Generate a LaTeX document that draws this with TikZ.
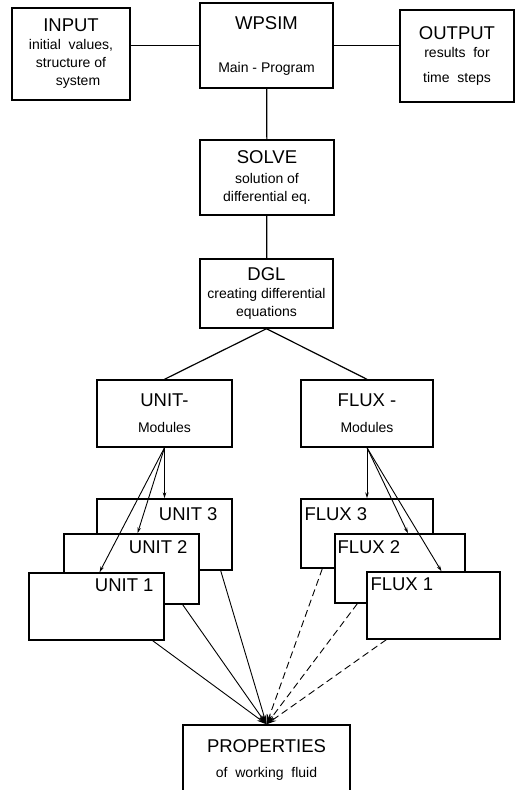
\documentclass[tikz,border=0pt]{standalone}
\usepackage{fontspec}
\setmainfont{Liberation Sans}
\usetikzlibrary{positioning, arrows.meta}

\newcommand\btitle[1]{{\fontsize{18.5}{18}\selectfont #1}}

\begin{document}
\begin{tikzpicture}[
  x=1pt, y=-1pt,
  font=\fontsize{14}{18}\selectfont,
  >={Stealth[length=6pt, width=3.5pt]},
  box/.style={draw, line width=1.4pt, fill=white, align=center, inner sep=2pt},
  lab/.style={font=\fontsize{18.5}{18}\selectfont, inner sep=0pt},
  link/.style={line width=1.2pt},
  feed/.style={->, line width=0.9pt},
  prop/.style={->, line width=0.9pt, >={Stealth[length=10pt, width=5.5pt]}},
  propdash/.style={prop, dash pattern=on 7pt off 4pt},
]
\useasboundingbox (0,0) rectangle (532,790);

% Main program row
\node[box, minimum width=118pt, minimum height=92pt] (input) at (71,54)
  {\btitle{INPUT}\\ initial\ \ values,\\ structure of\\ \hspace*{14pt}system};
\node[box, minimum width=133pt, minimum height=85pt] (main) at (266.5,45.5)
  {\btitle{WPSIM}\\[25pt] Main - Program};
\node[box, minimum width=114pt, minimum height=92pt] (output) at (457,56)
  {\btitle{OUTPUT}\\ results\ \ for\\[7pt] time\ \ steps};

% Solver chain
\node[box, minimum width=134pt, minimum height=75pt] (solve) at (267,177.5)
  {\btitle{SOLVE}\\[2pt] solution of\\ differential eq.};
\node[box, minimum width=133pt, minimum height=69pt] (dgl) at (266.5,293.5)
  {\btitle{DGL}\\ creating differential\\ equations};

% Module groups
\node[box, minimum width=135pt, minimum height=67pt] (unitmod) at (164.5,413.5)
  {\btitle{UNIT-}\\[8pt] Modules};
\node[box, minimum width=132pt, minimum height=67pt] (fluxmod) at (367,413.5)
  {\btitle{FLUX -}\\[8pt] Modules};

% Stacked unit modules (back to front)
\node[box, minimum width=135pt, minimum height=71pt,
      label={[lab, anchor=north east, xshift=-15pt, yshift=-9pt]north east:UNIT 3}] (unit3) at (164.5,534.5) {};
\node[box, minimum width=135pt, minimum height=70pt,
      label={[lab, anchor=north east, xshift=-12pt, yshift=-7pt]north east:UNIT 2}] (unit2) at (131.5,569) {};
\node[box, minimum width=135pt, minimum height=67pt,
      label={[lab, anchor=north east, xshift=-11pt, yshift=-6pt]north east:UNIT 1}] (unit1) at (96.5,606.5) {};

% Stacked flux modules (back to front)
\node[box, minimum width=132pt, minimum height=69pt,
      label={[lab, anchor=north west, xshift=4pt, yshift=-9pt]north west:FLUX 3}] (flux3) at (367,533.5) {};
\node[box, minimum width=130pt, minimum height=69pt,
      label={[lab, anchor=north west, xshift=3pt, yshift=-7pt]north west:FLUX 2}] (flux2) at (400,568.5) {};
\node[box, minimum width=133pt, minimum height=67pt,
      label={[lab, anchor=north west, xshift=4pt, yshift=-6pt]north west:FLUX 1}] (flux1) at (433.5,605.5) {};

% Fluid properties
\node[box, minimum width=167pt, minimum height=70pt] (props) at (266.5,760)
  {\btitle{PROPERTIES}\\[7pt] of\ \ working\ \ fluid};

% Plain links
\draw[link] (main.west) -- (main.west -| input.east);
\draw[link] (main.east) -- (main.east -| output.west);
\draw[link] (main) -- (solve);
\draw[link] (solve) -- (dgl);
\draw[link] (dgl.south) -- (unitmod.north);
\draw[link] (dgl.south) -- (fluxmod.north);

% Module calls
\draw[feed] (unitmod.south) -- (unit3.north);
\draw[feed] (unitmod.south) -- ([xshift=6pt]unit2.north);
\draw[feed] (unitmod.south) -- ([xshift=3pt]unit1.north);
\draw[feed] (fluxmod.south) -- (flux3.north);
\draw[feed] (fluxmod.south) -- ([xshift=8pt]flux2.north);
\draw[feed] (fluxmod.south) -- ([xshift=8pt]flux1.north);

% Property calls
\draw[prop] ([xshift=-12pt]unit1.south east) -- (props.north);
\draw[prop] ([xshift=-17pt]unit2.south east) -- (props.north);
\draw[prop] ([xshift=-12pt]unit3.south east) -- (props.north);
\draw[propdash] ([xshift=22pt]flux3.south west) -- (props.north);
\draw[propdash] ([xshift=23pt]flux2.south west) -- (props.north);
\draw[propdash] ([xshift=20pt]flux1.south west) -- (props.north);
\end{tikzpicture}
\end{document}
